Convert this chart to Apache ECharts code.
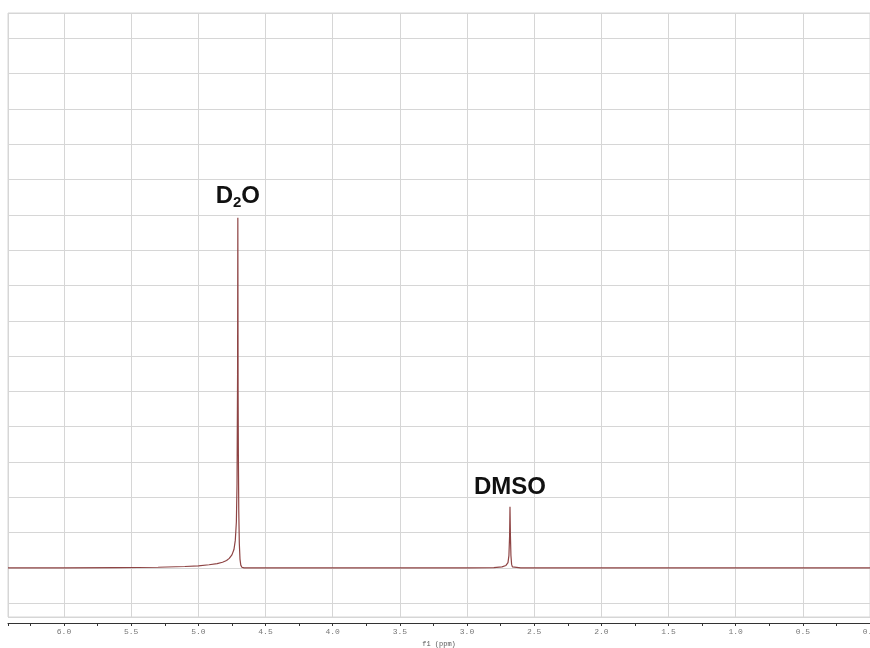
<!DOCTYPE html>
<html>
<head>
<meta charset="utf-8">
<script src="https://cdn.jsdelivr.net/npm/echarts@6/dist/echarts.min.js"></script>
<style>
  html, body { margin: 0; padding: 0; background: #fff; }
  #spec { width: 870px; height: 648px; }
</style>
</head>
<body>
<div id="spec"></div>
<script>
// chemical shift (ppm) and intensity
var ppm = [6.417, 6.0, 5.6, 5.3, 5.1, 5.0, 4.92, 4.86, 4.82, 4.79, 4.77, 4.75, 4.735, 4.725, 4.717, 4.712, 4.708, 4.706,
           4.704, 4.702, 4.699, 4.695, 4.69, 4.684, 4.676, 4.66, 4.5, 3.5, 3.0, 2.8, 2.74, 2.71, 2.695, 2.688, 2.683, 2.68,
           2.677, 2.673, 2.668, 2.662, 2.65, 2.6, 2.0, 1.0, 0.0];
var intensity = [0.0, 0.0, 0.01, 0.02, 0.04, 0.06, 0.09, 0.12, 0.16, 0.21, 0.27, 0.37, 0.52, 0.78, 1.3, 2.4, 5.5, 9.92,
                 5.0, 3.2, 1.6, 0.7, 0.25, 0.08, 0.02, 0.0, 0.0, 0.0, 0.0, 0.01, 0.03, 0.07, 0.15, 0.35, 0.9, 1.73,
                 0.95, 0.35, 0.1, 0.03, 0.01, 0.0, 0.0, 0.0, 0.0];
var peakNames = ['D2O', 'DMSO'];
var peakPpm = [4.706, 2.68];

var points = ppm.map(function (p, i) { return [p, intensity[i]]; });

var labelRich = {
  b: { fontFamily: 'Liberation Sans', fontWeight: 'bold', fontSize: 24, color: '#111' },
  s: { fontFamily: 'Liberation Sans', fontWeight: 'bold', fontSize: 15, color: '#111', padding: [13, 0, 0, 0] }
};
var marks = peakNames.map(function (n, k) {
  var i = ppm.indexOf(peakPpm[k]);
  return {
    coord: [ppm[i], intensity[i]],
    label: { formatter: n === 'D2O' ? '{b|D}{s|2}{b|O}' : '{b|' + n + '}' }
  };
});

var option = {
  backgroundColor: '#fff',
  animation: false,
  grid: {
    left: 8, right: 0, top: 13, bottom: 31,
    outerBoundsMode: 'none',
    containLabel: false,
    show: true, borderColor: '#d6d6d6', borderWidth: 1
  },
  xAxis: {
    type: 'value',
    inverse: true,
    min: 0,
    max: 6.417,
    interval: 0.5,
    offset: 6,
    name: 'f1 (ppm)',
    nameLocation: 'middle',
    nameGap: 17,
    nameTextStyle: { fontFamily: 'Liberation Mono', fontSize: 7, color: '#555' },
    axisLine: { show: true, onZero: false, lineStyle: { color: '#333', width: 1 } },
    axisTick: { show: true, length: 3, lineStyle: { color: '#333' } },
    minorTick: { show: true, splitNumber: 2, length: 3, lineStyle: { color: '#333' } },
    axisLabel: {
      showMaxLabel: false,
      margin: 5,
      fontFamily: 'Liberation Mono',
      fontSize: 8,
      color: '#777',
      formatter: function (v) { return v.toFixed(1); }
    },
    splitLine: { show: true, lineStyle: { color: '#d6d6d6', width: 1 } }
  },
  yAxis: {
    type: 'value',
    min: -1.39,
    max: 15.72,
    splitNumber: 17,
    minInterval: 1,
    maxInterval: 1,
    axisLine: { show: false },
    axisTick: { show: false },
    axisLabel: { show: false },
    splitLine: { show: true, lineStyle: { color: '#d6d6d6', width: 1 } }
  },
  series: [{
    type: 'line',
    data: points,
    showSymbol: false,
    lineStyle: { color: '#8e4444', width: 1.2 },
    markPoint: {
      symbol: 'circle',
      symbolSize: 0,
      label: { show: true, position: 'top', distance: 7, rich: labelRich },
      data: marks
    }
  }]
};

var chart = echarts.init(document.getElementById('spec'));
chart.setOption(option);
</script>
</body>
</html>
